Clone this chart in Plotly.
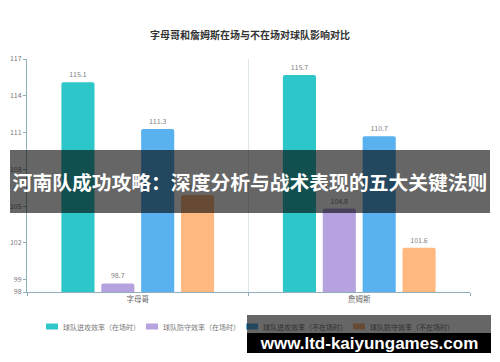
import plotly.graph_objects as go

categories = ["字母哥", "詹姆斯"]
series_names = ["球队进攻效率（在场时）", "球队防守效率（在场时）", "球队进攻效率（不在场时）", "球队防守效率（不在场时）"]
off_on = [115.1, 115.7]
def_on = [98.7, 104.8]
off_off = [111.3, 110.7]
def_off = [105.9, 101.6]
colors = ["#2ec7c9", "#b6a2de", "#5ab1ef", "#ffb980"]
y_ticks = [98, 99, 102, 105, 108, 111, 114, 117]

title_text = "字母哥和詹姆斯在场与不在场对球队影响对比"
banner_text = "河南队成功攻略：深度分析与战术表现的五大关键法则"
watermark_text = "www.ltd-kaiyungames.com"

FONT = "Noto Sans CJK SC, Noto Sans, sans-serif"

# plot area geometry (px) for converting overlay positions to paper coords
L, R, T, B = 27, 30, 59, 70
W, H = 500, 362
PW, PH = W - L - R, H - T - B


def px_x(x):
    return (x - L) / PW


def px_y(y):
    return (H - B - y) / PH


fig = go.Figure()
for name, vals, col in zip(series_names, [off_on, def_on, off_off, def_off], colors):
    fig.add_trace(go.Bar(
        x=categories, y=vals, name=name,
        marker=dict(color=col, line=dict(width=0), cornerradius=2),
        text=[f"{v:.1f}" for v in vals], textposition="outside",
        textfont=dict(size=7, color="#808080", family=FONT),
        cliponaxis=False, showlegend=False,
    ))

fig.update_layout(
    width=W, height=H,
    margin=dict(l=L, r=R, t=T, b=B, autoexpand=False),
    paper_bgcolor="white", plot_bgcolor="white",
    barmode="group", bargap=0.28, bargroupgap=0.17,
    font=dict(family=FONT, color="#777777", size=7),
    title=dict(text=title_text, x=0.5, xanchor="center", y=1 - 35 / H, yanchor="middle",
               font=dict(size=10, color="#333333", family=FONT, weight="bold")),
    showlegend=False,
    xaxis=dict(type="category", tickson="boundaries", showgrid=True, gridcolor="#dde7ea", gridwidth=1,
               showline=True, linecolor="#8fb0ba", linewidth=1, ticks="outside", ticklen=3,
               tickcolor="#8fb0ba", tickfont=dict(size=7.5, color="#666666", family=FONT),
               range=[-0.5, 1.5], zeroline=False, automargin=False),
    yaxis=dict(range=[98, 117], tickvals=y_ticks, ticktext=[str(t) for t in y_ticks],
               showgrid=False, zeroline=False, showline=True, linecolor="#8fb0ba", linewidth=1,
               ticks="outside", ticklen=3, tickcolor="#8fb0ba", automargin=False,
               tickfont=dict(size=7, color="#777777", family=FONT)),
)

# legend (drawn manually to match the compact original layout)
legend_x = [46, 146, 246, 353]
for name, col, lx in zip(series_names, colors, legend_x):
    fig.add_shape(type="rect", xref="paper", yref="paper",
                  x0=px_x(lx), x1=px_x(lx + 12), y0=px_y(329.5), y1=px_y(323.5),
                  fillcolor=col, line=dict(width=0), layer="above")
    fig.add_annotation(xref="paper", yref="paper", x=px_x(lx + 15), y=px_y(326.5),
                       text=name, showarrow=False, xanchor="left", yanchor="middle",
                       font=dict(size=7, color="#777777", family=FONT))

# banner overlay
fig.add_annotation(xref="paper", yref="paper", x=px_x(250), y=px_y(181.5),
                   text=banner_text, showarrow=False, xanchor="center", yanchor="middle",
                   width=480, height=63, bgcolor="rgba(0,0,0,0.6)", borderpad=0, borderwidth=0,
                   font=dict(size=19.8, color="white", family=FONT, weight="bold"))
# watermark overlay
fig.add_annotation(xref="paper", yref="paper", x=px_x(369), y=px_y(324),
                   text=" ", showarrow=False, xanchor="center", yanchor="middle",
                   width=244, height=18, bgcolor="rgba(0,0,0,0.6)", borderpad=0, borderwidth=0)
fig.add_annotation(xref="paper", yref="paper", x=px_x(369), y=px_y(343),
                   text=watermark_text, showarrow=False, xanchor="center", yanchor="middle",
                   width=244, height=20, bgcolor="black", borderpad=0, borderwidth=0,
                   font=dict(size=17, color="white", family="Liberation Sans, Arial, sans-serif", weight="bold"))

fig.write_html("out.html", config={"displayModeBar": False},
               post_script="document.body.style.margin='0';")
